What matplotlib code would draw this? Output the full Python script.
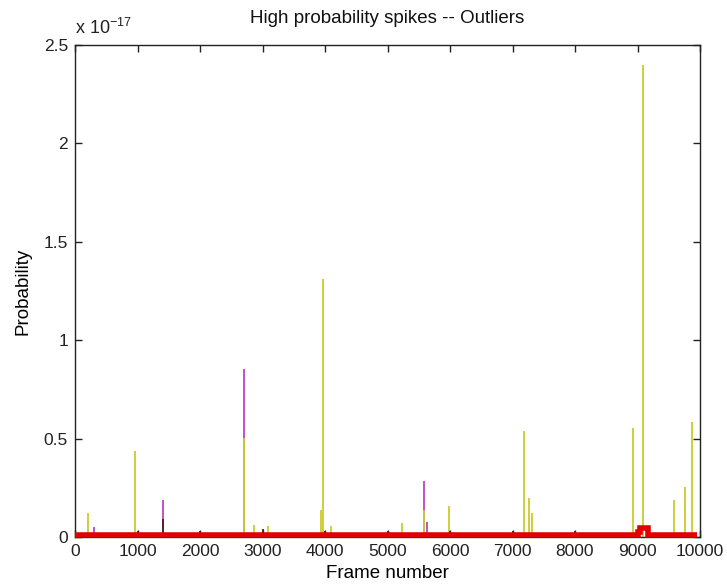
import matplotlib
matplotlib.use("Agg")
import matplotlib.pyplot as plt
from matplotlib.ticker import FuncFormatter, FixedLocator

plt.rcParams['font.family'] = ['Liberation Sans', 'DejaVu Sans']
plt.rcParams['mathtext.fontset'] = 'custom'
plt.rcParams['mathtext.rm'] = 'Liberation Sans'

SCALE = 1e-17

# Yellow spikes (frame, probability in units of 1e-17)
yellow_frames = [202, 965, 1400, 2700, 2860, 3090, 3930, 3960, 4090, 5237, 5584,
                 5980, 7184, 7270, 7317, 8933, 9090, 9584, 9765, 9877]
yellow_values = [0.12, 0.437, 0.05, 0.505, 0.06, 0.055, 0.137, 1.31, 0.056, 0.073, 0.137,
                 0.16, 0.54, 0.197, 0.12, 0.554, 2.40, 0.19, 0.255, 0.585]

# Magenta spikes
magenta_frames = [300, 1400, 2700, 5584, 5630]
magenta_values = [0.05, 0.188, 0.853, 0.285, 0.078]

# Dark small spikes
dark_frames = [1000, 1400, 2000, 3000, 4000, 5000, 6000, 7000, 8000, 9000]
dark_values = [0.03, 0.09, 0.03, 0.04, 0.03, 0.03, 0.03, 0.03, 0.03, 0.035]

# Red baseline series
red_frames = [0, 9000, 9000, 9040, 9040, 9160, 9160, 9950]
red_values = [0.008, 0.008, 0.025, 0.025, 0.045, 0.045, 0.008, 0.008]

x_ticks = [0, 1000, 2000, 3000, 4000, 5000, 6000, 7000, 8000, 9000, 10000]
y_ticks = [0, 0.5, 1, 1.5, 2, 2.5]

fig = plt.figure(figsize=(7.27, 5.84), dpi=100)
ax = fig.add_axes([75/727, 47/584, 625/727, 492/584])

ax.vlines(magenta_frames, 0, [v * SCALE for v in magenta_values],
          colors='#c040c8', linewidth=1.3, zorder=2)
ax.vlines(yellow_frames, 0, [v * SCALE for v in yellow_values],
          colors='#cccc2a', linewidth=1.3, zorder=2.1)
ax.vlines(dark_frames, 0, [v * SCALE for v in dark_values],
          colors='#402020', linewidth=1.3, zorder=2.2)
ax.plot(red_frames, [v * SCALE for v in red_values], color='#e00000',
        linewidth=4, solid_capstyle='butt', solid_joinstyle='miter',
        zorder=3, clip_on=False)

ax.set_xlim(0, 10000)
ax.set_ylim(0, 2.5 * SCALE)
ax.xaxis.set_major_locator(FixedLocator(x_ticks))
ax.yaxis.set_major_locator(FixedLocator([t * SCALE for t in y_ticks]))
ax.yaxis.set_major_formatter(FuncFormatter(lambda v, p: f"{v / SCALE:g}"))
ax.xaxis.set_major_formatter(FuncFormatter(lambda v, p: f"{v:g}"))

ax.tick_params(direction='in', top=True, right=True, length=5, width=1,
               labelsize=12.5, colors='#222222', pad=5)
for s in ax.spines.values():
    s.set_linewidth(1.0)
    s.set_color('#222222')

ax.text(0.0, 1.015, r"x 10$^{\mathregular{-17}}$", transform=ax.transAxes, fontsize=13,
        ha='left', va='bottom', color='#222222')
ax.set_title("High probability spikes -- Outliers", fontsize=13.5, pad=16, color='#111111')
ax.set_xlabel("Frame number", fontsize=13.5, labelpad=4)
ax.set_ylabel("Probability", fontsize=13.5, labelpad=9)

fig.savefig("out.png", dpi=100)
